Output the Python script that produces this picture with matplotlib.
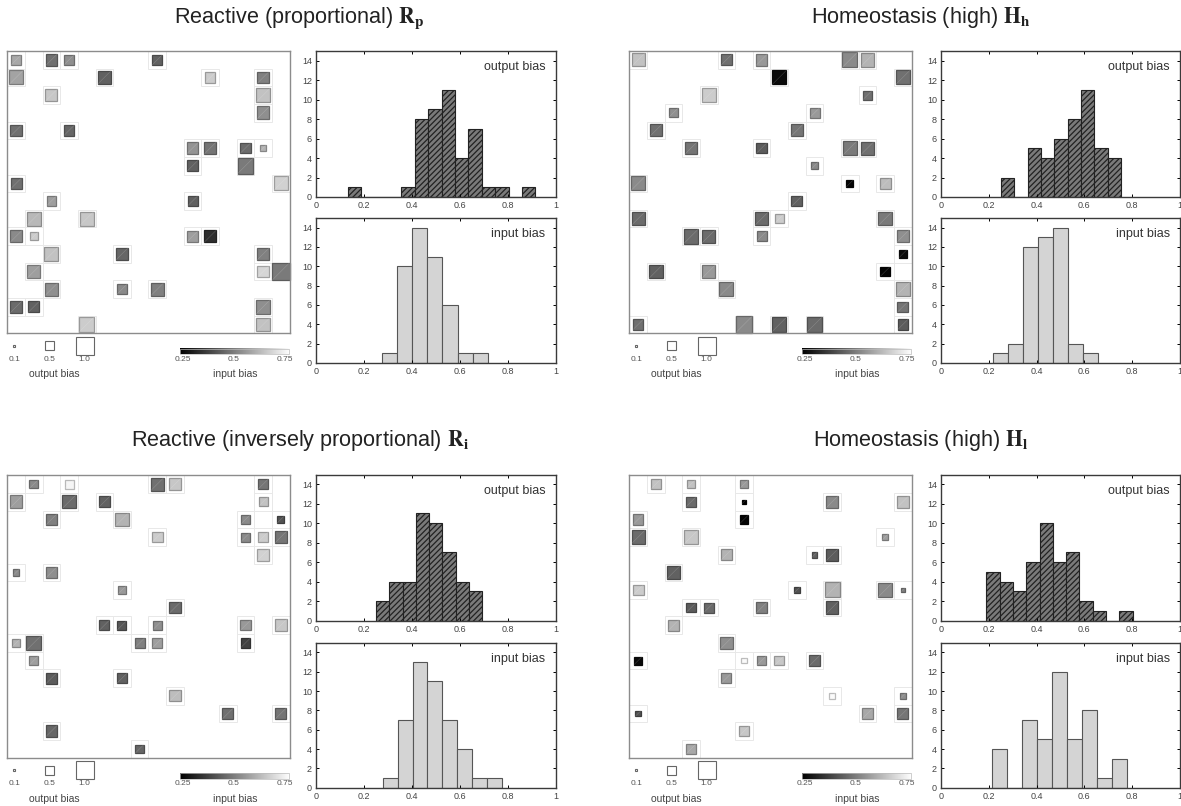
import numpy as np
import matplotlib
matplotlib.use("Agg")
import matplotlib.pyplot as plt
from matplotlib.patches import Rectangle

plt.rcParams['font.family'] = ['Liberation Sans', 'DejaVu Sans']
plt.rcParams['mathtext.fontset'] = 'stix'
plt.rcParams['hatch.linewidth'] = 0.9

W, H = 1181, 806

# panel titles
titles = ["Reactive (proportional) $\\mathbf{R}_\\mathbf{p}$",
          "Homeostasis (high) $\\mathbf{H}_\\mathbf{h}$",
          "Reactive (inversely proportional) $\\mathbf{R}_\\mathbf{i}$",
          "Homeostasis (high) $\\mathbf{H}_\\mathbf{l}$"]

# network cells: row, column, output bias (square size), input bias (grey)
rp_row = [0, 0, 0, 0, 1, 1, 1, 1, 2, 2, 3, 4, 4, 5, 5, 5, 5, 6, 6, 7, 7, 8, 8, 9, 9,
          10, 10, 10, 10, 11, 11, 11, 12, 12, 12, 13, 13, 13, 14, 14, 14, 15, 15]
rp_col = [0, 2, 3, 8, 0, 5, 11, 14, 2, 14, 14, 0, 3, 10, 11, 13, 14, 10, 13, 0, 15, 2, 10, 1, 4,
          0, 1, 10, 11, 2, 6, 14, 1, 14, 15, 2, 6, 8, 0, 1, 14, 4, 14]
rp_out = [0.57, 0.66, 0.60, 0.57, 0.79, 0.72, 0.60, 0.64, 0.68, 0.79, 0.72, 0.66, 0.60,
          0.64, 0.68, 0.57, 0.30, 0.60, 0.90, 0.62, 0.79, 0.55, 0.57, 0.79, 0.79,
          0.68, 0.47, 0.64, 0.68, 0.79, 0.66, 0.64, 0.75, 0.64, 1.00, 0.75, 0.60, 0.72,
          0.68, 0.62, 0.79, 0.83, 0.79]
rp_in = [0.58, 0.47, 0.53, 0.44, 0.57, 0.44, 0.65, 0.50, 0.64, 0.63, 0.53, 0.47, 0.45,
         0.54, 0.48, 0.46, 0.60, 0.44, 0.49, 0.47, 0.66, 0.56, 0.44, 0.61, 0.64,
         0.52, 0.65, 0.56, 0.34, 0.63, 0.45, 0.50, 0.56, 0.67, 0.49, 0.53, 0.52, 0.50,
         0.46, 0.44, 0.53, 0.65, 0.63]

hh_row = [0, 0, 0, 0, 0, 1, 1, 2, 2, 3, 3, 4, 4, 5, 5, 5, 5, 6, 7, 7, 7, 8, 9, 9, 9, 9,
          10, 10, 10, 10, 11, 12, 12, 12, 13, 13, 14, 15, 15, 15, 15, 15]
hh_col = [0, 5, 7, 12, 13, 8, 15, 4, 13, 2, 10, 1, 9, 3, 7, 12, 13, 10, 0, 12, 14, 9, 0, 7, 8, 14,
          3, 4, 7, 15, 15, 1, 4, 14, 5, 15, 15, 0, 6, 8, 10, 15]
hh_out = [0.75, 0.64, 0.66, 0.85, 0.79, 0.79, 0.79, 0.79, 0.51, 0.51, 0.57, 0.68, 0.68,
          0.68, 0.60, 0.77, 0.74, 0.43, 0.81, 0.40, 0.62, 0.62, 0.74, 0.75, 0.53, 0.77,
          0.83, 0.74, 0.57, 0.68, 0.47, 0.77, 0.75, 0.53, 0.81, 0.79, 0.60,
          0.58, 0.94, 0.81, 0.83, 0.58]
hh_in = [0.63, 0.47, 0.55, 0.52, 0.60, 0.27, 0.47, 0.65, 0.47, 0.53, 0.55, 0.47, 0.48,
         0.48, 0.43, 0.49, 0.47, 0.52, 0.52, 0.26, 0.62, 0.44, 0.46, 0.46, 0.65, 0.49,
         0.46, 0.46, 0.52, 0.53, 0.27, 0.44, 0.55, 0.26, 0.52, 0.60, 0.48,
         0.47, 0.52, 0.44, 0.46, 0.43]

ri_row = [0, 0, 0, 0, 0, 1, 1, 1, 1, 2, 2, 2, 2, 3, 3, 3, 3, 4, 5, 5, 6, 7,
          8, 8, 8, 8, 8, 9, 9, 9, 9, 9, 10, 11, 11, 12, 13, 13, 14, 15]
ri_col = [1, 3, 8, 9, 14, 0, 3, 5, 14, 2, 6, 13, 15, 8, 13, 14, 15, 14, 0, 2, 6, 9,
          5, 6, 8, 13, 15, 0, 1, 7, 8, 13, 1, 2, 6, 9, 12, 15, 2, 7]
ri_out = [0.49, 0.51, 0.75, 0.72, 0.55, 0.72, 0.75, 0.62, 0.51, 0.64, 0.75, 0.51, 0.40,
          0.60, 0.51, 0.55, 0.70, 0.70, 0.38, 0.64, 0.45, 0.64,
          0.58, 0.51, 0.53, 0.57, 0.70, 0.47, 0.83, 0.57, 0.57, 0.55, 0.49, 0.62, 0.57,
          0.64, 0.64, 0.62, 0.64, 0.47]
ri_in = [0.52, 0.73, 0.47, 0.64, 0.48, 0.56, 0.46, 0.44, 0.63, 0.50, 0.60, 0.52, 0.41,
         0.65, 0.52, 0.65, 0.48, 0.66, 0.52, 0.53, 0.55, 0.46,
         0.44, 0.42, 0.53, 0.55, 0.64, 0.60, 0.47, 0.50, 0.56, 0.38, 0.56, 0.43, 0.44,
         0.62, 0.47, 0.48, 0.45, 0.45]

hl_row = [0, 0, 0, 1, 1, 1, 1, 2, 2, 3, 3, 3, 4, 4, 4, 5, 6, 6, 6, 6, 6, 7, 7, 7, 7,
          8, 9, 10, 10, 10, 10, 10, 11, 12, 12, 13, 13, 13, 14, 15]
hl_col = [1, 3, 6, 3, 6, 11, 15, 0, 6, 0, 3, 14, 5, 10, 11, 2, 0, 9, 11, 14, 15, 3, 4, 7, 11,
          2, 5, 0, 6, 7, 8, 10, 5, 11, 15, 0, 13, 15, 6, 3]
hl_out = [0.58, 0.47, 0.45, 0.55, 0.23, 0.66, 0.70, 0.58, 0.49, 0.75, 0.79, 0.34, 0.60,
          0.32, 0.66, 0.70, 0.62, 0.38, 0.85, 0.77, 0.23, 0.53, 0.57, 0.62, 0.70,
          0.60, 0.70, 0.45, 0.30, 0.53, 0.55, 0.60, 0.58, 0.32, 0.36, 0.30, 0.62, 0.62,
          0.53, 0.58]
hl_in = [0.63, 0.63, 0.55, 0.46, 0.25, 0.52, 0.63, 0.55, 0.26, 0.46, 0.64, 0.56, 0.60,
         0.44, 0.43, 0.44, 0.65, 0.41, 0.60, 0.52, 0.50, 0.43, 0.46, 0.50, 0.44,
         0.60, 0.53, 0.27, 0.74, 0.55, 0.64, 0.46, 0.55, 0.74, 0.53, 0.41, 0.58, 0.48,
         0.64, 0.58]

# histograms: first bin edge, bin width, counts
rp_hout = (0.133, 0.0559, [1, 0, 0, 0, 1, 8, 9, 11, 4, 7, 1, 1, 0, 1])
rp_hin = (0.276, 0.0630, [1, 10, 14, 11, 6, 1, 1])
hh_hout = (0.251, 0.0558, [2, 0, 5, 4, 6, 8, 11, 5, 4])
hh_hin = (0.219, 0.0627, [1, 2, 12, 13, 14, 2, 1])
ri_hout = (0.250, 0.0556, [2, 4, 4, 11, 10, 7, 4, 3])
ri_hin = (0.278, 0.0625, [1, 7, 13, 11, 7, 4, 1, 1])
hl_hout = (0.190, 0.0556, [5, 4, 3, 6, 10, 6, 7, 2, 1, 0, 1])
hl_hin = (0.215, 0.0627, [4, 0, 7, 5, 12, 5, 8, 1, 3])

legend_sizes = [0.1, 0.5, 1.0]
legend_labels = ['0.1', '0.5', '1.0']
cbar_ticks = [0.25, 0.5, 0.75]
cbar_labels = ['0.25', '0.5', '0.75']


def ax_at(fig, x, y, w, h):
    return fig.add_axes([x / W, 1 - (y + h) / H, w / W, h / H])


def grey(v):
    g = min(max((v - 0.25) / 0.5, 0), 1)
    return (g, g, g)


def draw_grid(ax, rows, cols, outs, ins):
    for r, c, o, i in zip(rows, cols, outs, ins):
        ax.add_patch(Rectangle((c, r), 1, 1, fill=False, ec='#e8e8e8', lw=0.7))
        g = grey(i)
        ec = tuple(0.75 * x for x in g)
        ax.add_patch(Rectangle((c + 0.5 - o / 2, r + 0.5 - o / 2), o, o,
                               fc=g, ec=ec, lw=0.9, clip_on=False))
        # faint diagonal seen on every square
        ax.plot([c + 0.5 - o / 2, c + 0.5 + o / 2], [r + 0.5 + o / 2, r + 0.5 - o / 2],
                color='white', alpha=0.2, lw=0.4)
    # size legend
    for s, lab, xc in zip(legend_sizes, legend_labels, [0.4, 2.38, 4.39]):
        ax.add_patch(Rectangle((xc - s / 2, 16.71 - s / 2), s, s, fc='white',
                               ec='#666666', lw=0.8, clip_on=False))
        ax.text(xc, 17.47, lab, ha='center', va='center', fontsize=6, color='#555555')
    ax.text(2.66, 18.32, 'output bias', ha='center', va='center', fontsize=7.5, color='#444444')
    # grey scale bar
    ax.imshow(np.linspace(0.25, 0.75, 256)[None, :], extent=(9.8, 15.98, 17.2, 16.88),
              cmap='gray', vmin=0.25, vmax=0.75, aspect='auto', clip_on=False)
    ax.add_patch(Rectangle((9.8, 16.88), 6.18, 0.32, fill=False, ec='#bbbbbb', lw=0.5, clip_on=False))
    for t, lab in zip(cbar_ticks, cbar_labels):
        ax.text(9.95 + (t - 0.25) / 0.5 * 5.8, 17.47, lab, ha='center', va='center',
                fontsize=6, color='#555555')
    ax.text(12.9, 18.32, 'input bias', ha='center', va='center', fontsize=7.5, color='#444444')
    ax.set_xlim(0, 16)
    ax.set_ylim(16, 0)
    ax.set_xticks([])
    ax.set_yticks([])
    for sp in ax.spines.values():
        sp.set_color('#8c8c8c')
        sp.set_linewidth(1.0)


def draw_hist(ax, hist, label):
    start, width, counts = hist
    edges = start + width * np.arange(len(counts))
    if label == 'output bias':
        ax.bar(edges, counts, width=width, align='edge', fc='#7a7a7a', ec='#222222',
               hatch='//////', lw=0.8)
    else:
        ax.bar(edges, counts, width=width, align='edge', fc='#d4d4d4', ec='#555555', lw=0.8)
    ax.set_xlim(0, 1)
    ax.set_ylim(0, 15)
    ax.set_xticks([0, 0.2, 0.4, 0.6, 0.8, 1])
    ax.set_xticklabels(['0', '0.2', '0.4', '0.6', '0.8', '1'])
    ax.set_yticks(range(0, 15, 2))
    ax.tick_params(direction='in', top=True, right=True, labelsize=6.5, length=2.5,
                   width=0.7, labelcolor='#444444', pad=3)
    for sp in ax.spines.values():
        sp.set_color('#3a3a3a')
        sp.set_linewidth(1.0)
    ax.text(0.958, 0.89, label, transform=ax.transAxes, ha='right', va='center', fontsize=9,
            color='#333333')


fig = plt.figure(figsize=(W / 100, H / 100), dpi=100)

grids = [(rp_row, rp_col, rp_out, rp_in), (hh_row, hh_col, hh_out, hh_in),
         (ri_row, ri_col, ri_out, ri_in), (hl_row, hl_col, hl_out, hl_in)]
hists = [(rp_hout, rp_hin), (hh_hout, hh_hin), (ri_hout, ri_hin), (hl_hout, hl_hin)]

grid_x = [7.3, 629.3, 7.3, 629.3]
grid_y = [51, 51, 475.3, 475.3]
hist_x = [316, 941, 316, 941]
hist_w = [239.5, 239, 239.5, 239]
out_y = [51, 51, 474.5, 474.5]
in_y = [218, 218, 642.7, 642.7]
title_x = [299, 921, 300, 921]
title_y = [18, 18, 440, 440]

for k in range(4):
    gax = ax_at(fig, grid_x[k], grid_y[k], 282.3, 282.3)
    draw_grid(gax, *grids[k])
    oax = ax_at(fig, hist_x[k], out_y[k], hist_w[k], 146)
    draw_hist(oax, hists[k][0], 'output bias')
    iax = ax_at(fig, hist_x[k], in_y[k], hist_w[k], 145)
    draw_hist(iax, hists[k][1], 'input bias')
    fig.text(title_x[k] / W, 1 - title_y[k] / H, titles[k], ha='center', va='center',
             fontsize=15.6, color='#222222')

fig.savefig('out.png', dpi=100)
